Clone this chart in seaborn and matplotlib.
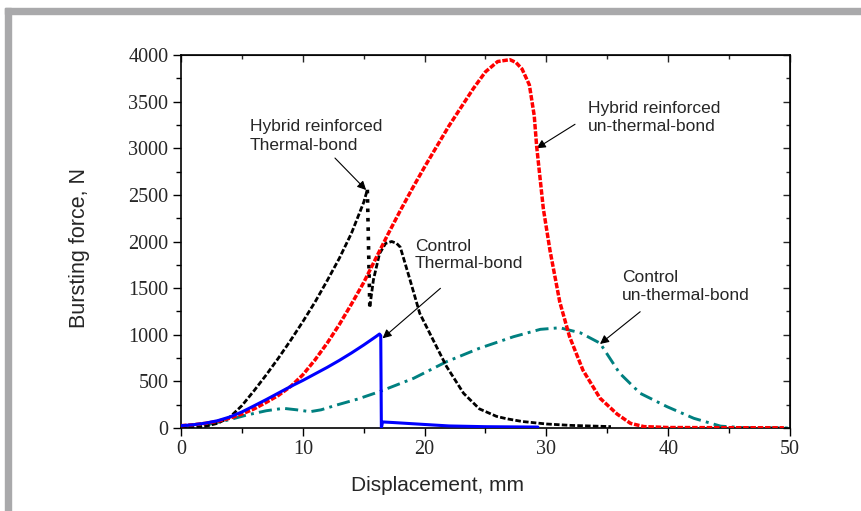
import numpy as np
import pandas as pd
import seaborn as sns
import matplotlib
matplotlib.use("Agg")
import matplotlib.pyplot as plt
from matplotlib.patches import Rectangle
from matplotlib.ticker import MultipleLocator

# ---------------- data ----------------
# Hybrid reinforced, thermal-bond (black)
hyb_tb_x = [0, 1, 2, 3, 4, 5, 6, 7, 8, 9, 10, 11, 12, 13, 14, 15, 15.3,
            15.5, 15.8, 16.3, 16.8, 17.3, 17.7, 18.0, 18.8, 19.6, 20.7, 21.8,
            23.2, 24.5, 25.9, 26.7, 28, 30, 32, 35.3]
hyb_tb_y = [0, 3, 18, 50, 115, 240, 400, 570, 750, 940, 1140, 1350, 1580,
            1820, 2090, 2420, 2555,
            1300, 1590, 1870, 1980, 2000, 1980, 1940, 1590, 1230, 944, 660,
            372, 205, 125, 100, 70, 43, 28, 15]
hyb_tb_break = 16  # index of the peak before the sudden drop

# Hybrid reinforced, un-thermal-bond (red)
hyb_utb_x = [0, 1, 2, 3, 4, 5, 6, 7, 8, 9, 10, 11, 12, 13, 14, 15, 16, 17,
             18, 19, 20, 21, 22, 23, 24, 25, 26, 27, 27.5, 28, 28.6, 29,
             29.2, 29.75, 30.3, 31.1, 31.9, 33, 34.4, 35.8, 36.9, 38, 40,
             45, 49.5]
hyb_utb_y = [25, 35, 50, 72, 105, 150, 205, 275, 350, 445, 570, 730, 910,
             1110, 1330, 1560, 1820, 2080, 2330, 2570, 2800, 3020, 3240,
             3440, 3640, 3820, 3930, 3950, 3920, 3850, 3680, 3350,
             3020, 2350, 1900, 1350, 980, 620, 320, 150, 50, 15, 5, 3, 2]

# Control, thermal-bond (blue)
ctl_tb_x = [0, 1, 2, 3, 4, 5, 6, 7, 8, 9, 10, 11, 12, 13, 14, 15, 16, 16.3,
            16.4, 16.45, 16.55, 17.5, 19.35, 22, 25, 29.3]
ctl_tb_y = [25, 35, 52, 78, 118, 172, 238, 305, 375, 445, 510, 580, 650,
            725, 805, 890, 980, 1008, 990, 0, 65, 58, 43, 22, 14, 10]

# Control, un-thermal-bond (teal)
ctl_utb_x = [0, 2, 4, 5.4, 7, 8.4, 9.5, 10.6, 11.5, 12.8, 14.5, 16.3, 19.1,
             21.8, 24.5, 27.3, 29.5, 31.1, 32.8, 34.4, 36, 37.7, 39.9, 42.1,
             44.3, 46, 50]
ctl_utb_y = [0, 30, 90, 139, 185, 211, 195, 175, 195, 247, 310, 390, 533,
             711, 855, 979, 1058, 1075, 1020, 910, 590, 372, 229, 104,
             20, 5, 0]

x_ticks = [0, 10, 20, 30, 40, 50]
y_ticks = [0, 500, 1000, 1500, 2000, 2500, 3000, 3500, 4000]

labels = ["Hybrid reinforced\nThermal-bond", "Control\nThermal-bond",
          "Hybrid reinforced\nun-thermal-bond", "Control\nun-thermal-bond"]

# ---------------- style ----------------
sns.set_style("ticks")
plt.rcParams['font.family'] = ['Liberation Sans', 'DejaVu Sans']

fig = plt.figure(figsize=(8.62, 5.11), dpi=100)
fig.patch.set_facecolor("white")
# grey frame (top and left bars)
fig.patches.append(Rectangle((5 / 862, 0), 6 / 862, 1 - 8 / 511,
                             transform=fig.transFigure, color="#a9a9ab", zorder=0))
fig.patches.append(Rectangle((5 / 862, 1 - 14 / 511), 1, 6 / 511,
                             transform=fig.transFigure, color="#a9a9ab", zorder=0))

ax = fig.add_axes([181 / 862, 1 - 428 / 511, (790 - 181) / 862, (428 - 55) / 511])

teal = "#008080"
sns.lineplot(x=ctl_utb_x, y=ctl_utb_y, ax=ax, color=teal, lw=2.1,
             linestyle=(0, (4.5, 1.8, 1.0, 1.8)), sort=False, estimator=None, zorder=2)
b = hyb_tb_break
sns.lineplot(x=hyb_tb_x[:b + 1], y=hyb_tb_y[:b + 1], ax=ax, color="black", lw=2.0,
             linestyle=(0, (2.0, 0.8)), sort=False, estimator=None, zorder=3)
sns.lineplot(x=hyb_tb_x[b:b + 2], y=hyb_tb_y[b:b + 2], ax=ax, color="black", lw=2.6,
             linestyle=(0, (1.0, 1.6)), sort=False, estimator=None, zorder=3)
sns.lineplot(x=hyb_tb_x[b + 1:], y=hyb_tb_y[b + 1:], ax=ax, color="black", lw=2.0,
             linestyle=(0, (2.0, 0.8)), sort=False, estimator=None, zorder=3)
sns.lineplot(x=hyb_utb_x, y=hyb_utb_y, ax=ax, color="#ff0000", lw=2.5,
             linestyle=(0, (1.6, 0.5)), sort=False, estimator=None, zorder=4)
sns.lineplot(x=ctl_tb_x, y=ctl_tb_y, ax=ax, color="#0000ff", lw=2.2,
             linestyle="-", sort=False, estimator=None, zorder=5)

ax.set_xlim(0, 50)
ax.set_ylim(0, 4000)
ax.set_xticks(x_ticks)
ax.set_yticks(y_ticks)
ax.xaxis.set_minor_locator(MultipleLocator(5))
ax.yaxis.set_minor_locator(MultipleLocator(250))
for s in ax.spines.values():
    s.set_visible(True)
    s.set_linewidth(1.2)
    s.set_color("black")
ax.tick_params(which="both", direction="out", color="black", width=1.0,
               labelsize=14.5, pad=3, labelfontfamily="Liberation Serif")
ax.tick_params(which="major", length=6)
ax.tick_params(which="minor", length=3.5)

secx = ax.secondary_xaxis("top")
secx.set_xticks(x_ticks)
secx.xaxis.set_minor_locator(MultipleLocator(5))
secx.tick_params(which="both", direction="in", labeltop=False, width=1.0)
secx.tick_params(which="major", length=5)
secx.tick_params(which="minor", length=3)
secy = ax.secondary_yaxis("right")
secy.set_yticks(y_ticks)
secy.yaxis.set_minor_locator(MultipleLocator(250))
secy.tick_params(which="both", direction="in", labelright=False, width=1.0)
secy.tick_params(which="major", length=5)
secy.tick_params(which="minor", length=3)

ax.set_xlabel("Displacement, mm", fontsize=15)
ax.set_ylabel("Bursting force, N", fontsize=15.5)
ax.xaxis.set_label_coords((438 - 181) / 609, (428 - 476) / 373)
ax.yaxis.set_label_coords((90 - 181) / 609, (428 - 248) / 373)

arrow = dict(arrowstyle="-|>", color="black", lw=0.8, mutation_scale=13,
             shrinkA=0, shrinkB=0)
ann_fs = 12.5
ax.text(5.67, 3310, labels[0], fontsize=ann_fs, ha="left", va="top", linespacing=1.3)
ax.annotate("", xy=(15.2, 2552), xytext=(12.64, 2895), arrowprops=arrow)
ax.text(19.2, 2030, labels[1], fontsize=ann_fs, ha="left", va="top", linespacing=1.2)
ax.annotate("", xy=(16.55, 962), xytext=(21.3, 1498), arrowprops=arrow)
ax.text(33.4, 3510, labels[2], fontsize=ann_fs, ha="left", va="top", linespacing=1.25)
ax.annotate("", xy=(29.2, 3000), xytext=(32.35, 3257), arrowprops=arrow)
ax.text(36.2, 1690, labels[3], fontsize=ann_fs, ha="left", va="top", linespacing=1.25)
ax.annotate("", xy=(34.4, 901), xytext=(37.7, 1247), arrowprops=arrow)

fig.savefig("out.png", dpi=100)
